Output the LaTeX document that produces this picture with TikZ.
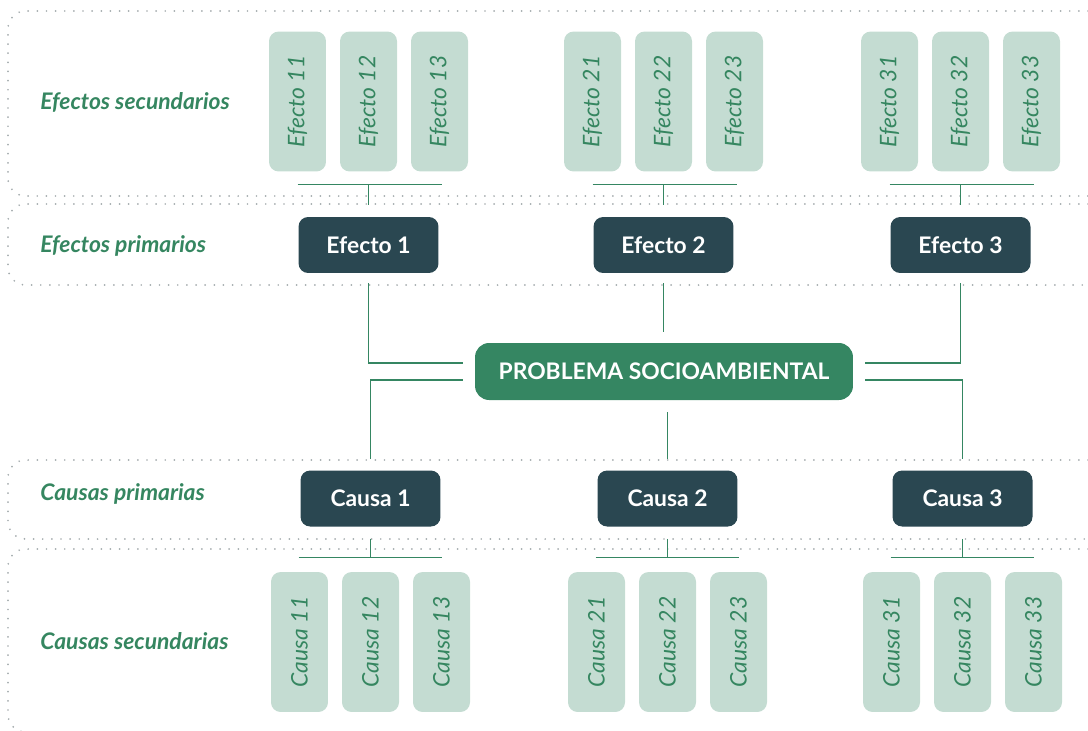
\documentclass[tikz,border=0pt]{standalone}
\usepackage{fontspec}
\setmainfont{Lato}
\usepackage{tikz}
\usetikzlibrary{calc}

\definecolor{darkbox}{HTML}{2A4751}
\definecolor{probgreen}{HTML}{358662}
\definecolor{lightbox}{HTML}{C4DCD2}
\definecolor{textgreen}{HTML}{358660}
\definecolor{dotgrey}{HTML}{A3ABAD}

\tikzset{
  band/.style={draw=dotgrey, line width=1.1pt, dash pattern=on 0pt off 5.2pt,
    line cap=round, rounded corners=10pt},
  link/.style={draw=probgreen, line width=0.75pt},
  grouplabel/.style={anchor=west, text=textgreen, inner sep=0pt,
    font=\fontsize{13}{15}\selectfont\bfseries\itshape},
  primbox/.style={rectangle, rounded corners=5.5pt, fill=darkbox, text=white,
    minimum width=2.8cm, minimum height=1.12cm,
    font=\fontsize{13}{15}\selectfont\bfseries},
  secbox/.style={rectangle, rounded corners=5.5pt, fill=lightbox, text=textgreen,
    rotate=90, minimum width=2.8cm, minimum height=1.14cm, inner sep=0pt,
    font=\fontsize{13}{15}\selectfont\itshape},
  probbox/.style={rectangle, rounded corners=8pt, fill=probgreen, text=white,
    minimum width=7.56cm, minimum height=1.14cm,
    font=\fontsize{13}{15}\selectfont\bfseries}
}

\begin{document}
\begin{tikzpicture}[x=0.02cm, y=-0.02cm]
    \useasboundingbox (0,0) rectangle (1088,730);

    % bands
    \draw[band] (1088,11) -- (8,11) -- (8,196) -- (1088,196);
    \draw[band] (1088,204) -- (8,204) -- (8,285) -- (1088,285);
    \draw[band] (1088,460) -- (8,460) -- (8,539) -- (1088,539);
    \draw[band] (1088,549) -- (8,549) -- (8,732) -- (1088,732);

    \node[grouplabel] (lsec) at (40,102) {Efectos secundarios};
    \node[grouplabel] (lpri) at (40,246) {Efectos primarios};
    \node[grouplabel] (lcpr) at (40,494) {Causas primarias};
    \node[grouplabel] (lcse) at (40,641) {Causas secundarias};

    \node[probbox] (prob) at (664,371.5) {PROBLEMA SOCIOAMBIENTAL};

    % effects
    \foreach \g/\cx in {1/368.5, 2/663.5, 3/960.5}
    {
      \node[primbox] (e\g) at (\cx,245) {Efecto \g};
      \foreach \k/\dx in {1/-71, 2/0, 3/71}
        {\node[secbox] (e\g\k) at (\cx+\dx,101.5) {Efecto \g\k};}
      \draw[link] ($(e\g1.west)+(0,12.5)$) -- ($(e\g3.west)+(2,12.5)$);
      \draw[link] ($(e\g2.west)+(0,12.5)$) -- ($(e\g.north)+(0,-12)$);
    }

    % causes
    \foreach \g/\cx in {1/370.5, 2/667.5, 3/962.5}
    {
      \node[primbox] (c\g) at (\cx,498.5) {Causa \g};
      \foreach \k/\dx in {1/-71, 2/0, 3/71}
        {\node[secbox] (c\g\k) at (\cx+\dx,642) {Causa \g\k};}
      \draw[link] ($(c\g1.east)+(-1,-14)$) -- ($(c\g3.east)+(0,-14)$);
      \draw[link] ($(c\g.south)+(0,12)$) -- ($(c\g2.east)+(0,-14)$);
    }

    % links to the problem
    \draw[link] ($(e1.south)+(0,10)$) |- ($(prob.west)+(-12,-8.5)$);
    \draw[link] ($(e2.south)+(0,10)$) -- ($(e2.south |- prob.north)+(0,-11)$);
    \draw[link] ($(e3.south)+(0,10)$) |- ($(prob.east)+(12,-8.5)$);
    \draw[link] ($(prob.west)+(-12,8.5)$) -| ($(c1.north)+(0,-11)$);
    \draw[link] ($(c2.north |- prob.south)+(0,12)$) -- ($(c2.north)+(0,-11)$);
    \draw[link] ($(prob.east)+(12,8.5)$) -| ($(c3.north)+(0,-11)$);

\end{tikzpicture}
\end{document}
